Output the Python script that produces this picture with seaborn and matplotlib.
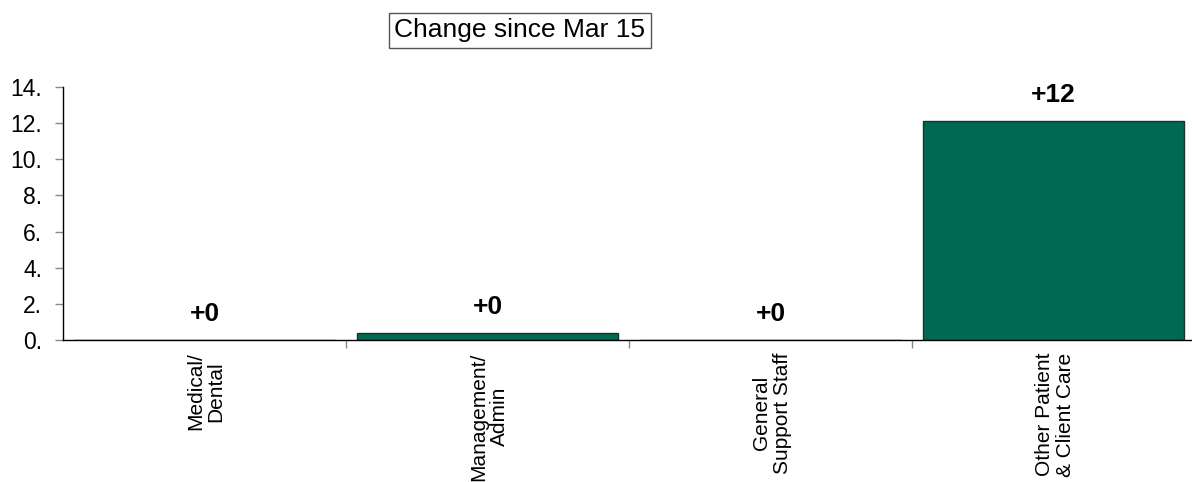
import matplotlib
matplotlib.use("Agg")
import matplotlib.pyplot as plt
import seaborn as sns
import pandas as pd
from matplotlib.ticker import FuncFormatter, FixedLocator

categories = ["Medical/\nDental", "Management/\nAdmin", "General\nSupport Staff", "Other Patient\n& Client Care"]
values = [0.0, 0.4, 0.0, 12.1]
value_labels = ["+0", "+0", "+0", "+12"]
yticks = [0, 2, 4, 6, 8, 10, 12, 14]
title = "Change since Mar 15"

sns.set_theme(style="white")
plt.rcParams['font.family'] = ['Liberation Sans', 'DejaVu Sans']
plt.rcParams['text.color'] = 'black'
plt.rcParams['xtick.color'] = 'black'
plt.rcParams['ytick.color'] = 'black'

df = pd.DataFrame({"category": categories, "value": values})

W, H = 1192, 482
fig = plt.figure(figsize=(W / 100, H / 100), dpi=100)
ax = fig.add_axes([63 / W, (H - 340) / H, (1195 - 63) / W, (340 - 87) / H])

sns.barplot(data=df, x="category", y="value", ax=ax, color="#006853",
            width=0.925, edgecolor="#17352c", linewidth=1, saturation=1)

ax.set_xlim(-0.5, 3.5)
ax.set_ylim(0, 14)
ax.set_yticks(yticks)
ax.yaxis.set_major_formatter(FuncFormatter(lambda v, p: f"{int(v)}."))
ax.tick_params(axis="y", which="major", length=6, width=1, color="#888888",
               labelcolor="black", labelsize=16.5, pad=9, left=True,
               direction="out")

# x ticks at category boundaries, labels at centres
ax.set_xticks([0, 1, 2, 3])
ax.set_xticklabels([])
ax.tick_params(axis="x", which="major", length=0)
ax.xaxis.set_minor_locator(FixedLocator([0.5, 1.5, 2.5]))
ax.tick_params(axis="x", which="minor", length=6, width=1, color="#888888",
               bottom=True, direction="out")
for i, c in enumerate(categories):
    ax.annotate(c, xy=(i, 0), xycoords=("data", "axes fraction"),
                xytext=(1, -9), textcoords="offset points",
                rotation=90, ha="center", va="top", multialignment="center",
                fontsize=15, color="black", linespacing=1.1)

ax.set_xlabel("")
ax.set_ylabel("")
for s in ["top", "right"]:
    ax.spines[s].set_visible(False)
ax.spines["left"].set_color("black")
ax.spines["bottom"].set_color("black")
ax.spines["left"].set_linewidth(1)
ax.spines["bottom"].set_linewidth(1)
ax.spines["bottom"].set_zorder(5)

for i, (v, lab) in enumerate(zip(values, value_labels)):
    ax.annotate(lab, xy=(i, v), xytext=(0, 10), textcoords="offset points",
                ha="center", va="bottom", fontsize=19, fontweight="bold",
                color="black")

fig.text(520 / W, 1 - 30.5 / H, title, ha="center", va="center", fontsize=19,
         color="black",
         bbox=dict(boxstyle="square,pad=0.22", facecolor="white",
                   edgecolor="#555555", linewidth=1))

fig.savefig("out.png", dpi=100)
